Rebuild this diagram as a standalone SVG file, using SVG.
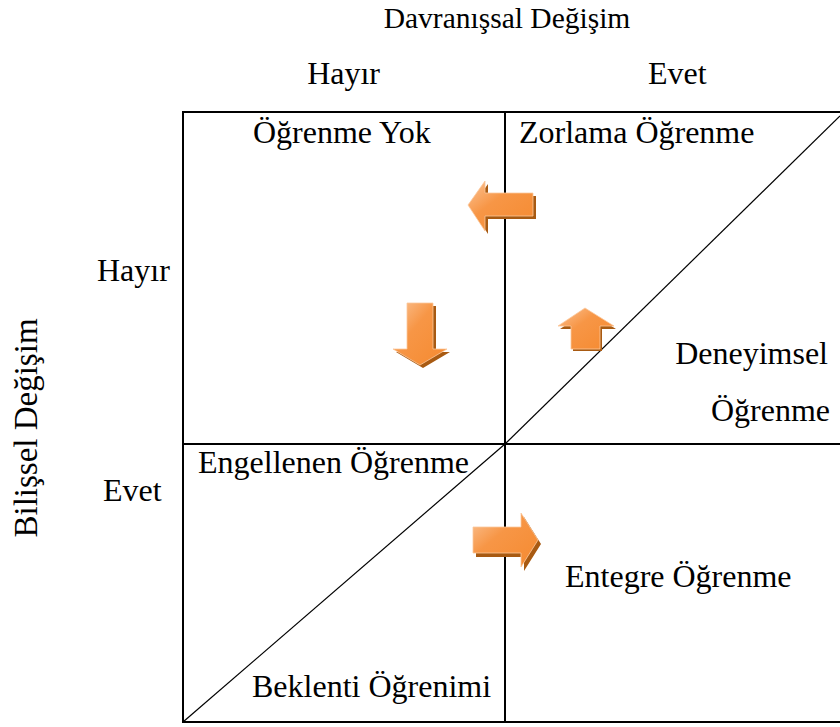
<svg xmlns="http://www.w3.org/2000/svg" width="840" height="727" viewBox="0 0 840 727">
<style>
.t{font-family:"Liberation Serif","Times New Roman",serif;font-size:32px;fill:#000}
.h{font-size:29.5px}
.g{stroke:#000;stroke-width:2;fill:none}
.d{stroke:#000;stroke-width:1.2;fill:none}
.sh{fill:#A85A12}
.ar{fill:url(#og);stroke:#FBC89C;stroke-width:0.8}
</style>
<defs>
<linearGradient id="og" x1="0" y1="0" x2="1" y2="1">
<stop offset="0" stop-color="#FBC497"/>
<stop offset="0.4" stop-color="#F79646"/>
<stop offset="1" stop-color="#F58A30"/>
</linearGradient>
</defs>
<rect width="840" height="727" fill="#fff"/>
<g id="connectors">
<line class="g" x1="182" y1="112" x2="840" y2="112"/>
<line class="g" x1="182" y1="722" x2="840" y2="722"/>
<line class="g" x1="183" y1="111" x2="183" y2="723"/>
<line class="g" x1="505" y1="112" x2="505" y2="722"/>
<line class="g" x1="183" y1="444" x2="840" y2="444"/>
<line class="d" x1="183" y1="722" x2="505" y2="444"/>
<line class="d" x1="505" y1="444" x2="840" y2="116"/>
</g>
<g id="arrow-left">
<polygon class="sh" points="471,208 488,184 488,196 536,196 536,219 488,219 488,234"/>
<polygon class="ar" points="468,205 485,181 485,193 533,193 533,216 485,216 485,231"/>
</g>
<g id="arrow-down">
<polygon class="sh" points="410,306 436,306 436,352 450,352 423,368 396,352 410,352"/>
<polygon class="ar" points="407,303 433,303 433,349 447,349 420,365 393,349 407,349"/>
</g>
<g id="arrow-up">
<polygon class="sh" points="587,311 616,329 602,329 602,351 573,351 573,329 560,329"/>
<polygon class="ar" points="585,308 614,326 600,326 600,349 571,349 571,326 558,326"/>
</g>
<g id="arrow-right">
<polygon class="sh" points="476,531 524,531 524,517 541,544 524,571 524,557 476,557"/>
<polygon class="ar" points="473,527 521,527 521,513 538,540 521,567 521,553 473,553"/>
</g>
<g id="labels">
<text class="t h" x="507" y="28" text-anchor="middle">Davranışsal Değişim</text>
<text class="t" x="380" y="84" text-anchor="end">Hayır</text>
<text class="t" x="648" y="84">Evet</text>
<text class="t" x="97" y="281">Hayır</text>
<text class="t" x="103" y="501">Evet</text>
<text class="t" transform="translate(37,428) rotate(-90)" text-anchor="middle" style="font-size:33px">Bilişsel Değişim</text>
</g>
<g id="q1"><text class="t" x="253" y="143">Öğrenme Yok</text></g>
<g id="q2"><text class="t" x="519" y="143">Zorlama Öğrenme</text></g>
<g id="q3"><text class="t" x="828" y="364" text-anchor="end">Deneyimsel</text><text class="t" x="830" y="421" text-anchor="end">Öğrenme</text></g>
<g id="q4"><text class="t" x="198" y="473">Engellenen Öğrenme</text></g>
<g id="q5"><text class="t" x="565" y="587">Entegre Öğrenme</text></g>
<g id="q6"><text class="t" x="252" y="697">Beklenti Öğrenimi</text></g>
</svg>
